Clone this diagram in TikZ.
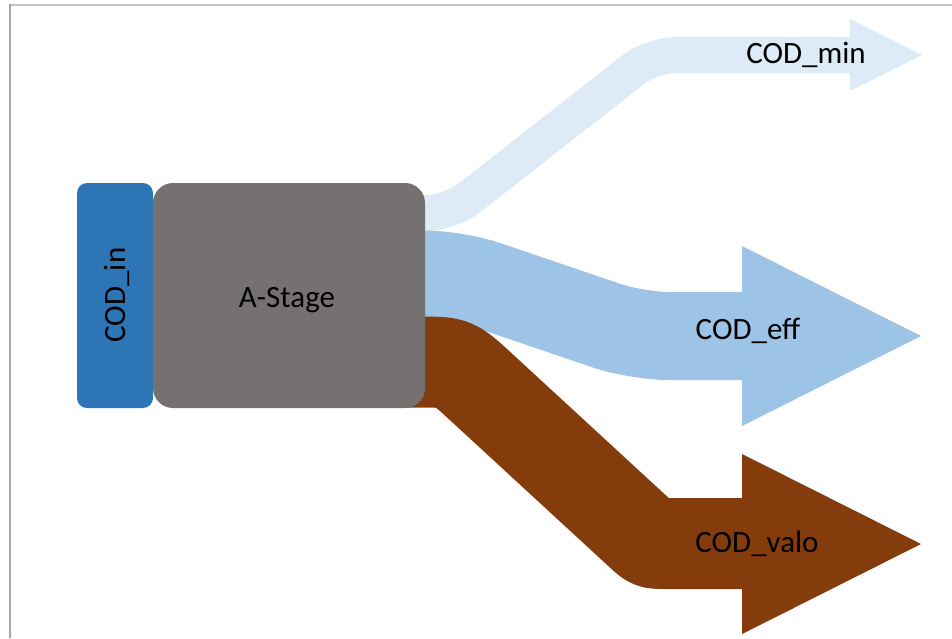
\documentclass[tikz,border=0pt]{standalone}
\usepackage{fontspec}
\setmainfont{Carlito}
\usetikzlibrary{calc}
\definecolor{cin}{HTML}{2E75B6}
\definecolor{cstage}{HTML}{767171}
\definecolor{cmin}{HTML}{DEEBF7}
\definecolor{ceff}{HTML}{9DC3E6}
\definecolor{cvalo}{HTML}{843C0C}
\definecolor{frametop}{HTML}{C4C4C4}
\definecolor{frameleft}{HTML}{A6A6A6}
\begin{document}
\begin{tikzpicture}[x=1pt,y=-1pt,
  lbl/.style={inner sep=0pt, font=\fontsize{31}{37}\selectfont, text=black},
  band/.style={line cap=butt, line join=round},
  box/.style={inner sep=0pt, draw=none}]
\useasboundingbox (0,0) rectangle (952,638);
% frame
\draw[frametop, line width=2pt] (9,5) -- (952,5);
\draw[frameleft, line width=2pt] (10,4) -- (10,638);
% coordinates
\coordinate (minS) at (400,213);
\coordinate (minC1) at (450,213);
\coordinate (minC2) at (652,55);
\coordinate (minB) at (851,55);
\coordinate (effS) at (400,274.5);
\coordinate (effC1) at (456,274.5);
\coordinate (effC2) at (637,336);
\coordinate (effB) at (743,336);
\coordinate (valS) at (400,362);
\coordinate (valC1) at (454,362);
\coordinate (valC2) at (651,543.5);
\coordinate (valB) at (743,543.5);
% bands
\draw[band, cmin, line width=36pt, rounded corners=24pt] (minS) -- (minC1) -- (minC2) -- (minB);
\draw[band, ceff, line width=88pt, rounded corners=32pt] (effS) -- (effC1) -- (effC2) -- (effB);
\draw[band, cvalo, line width=91pt]
  (valS) -- ($(valC1)+(-36,0)$) .. controls (valC1) .. ($(valC1)!36pt!(valC2)$)
  -- ($(valC2)!15pt!(valC1)$) .. controls (valC2) .. ($(valC2)+(15,0)$) -- (valB);
% arrow heads
\coordinate (minT) at (922,55);
\coordinate (effT) at (921,336);
\coordinate (valT) at (921,544);
\fill[cmin] (850,19) -- (minT) -- (850,91) -- cycle;
\fill[ceff] (742,246) -- (effT) -- (742,426) -- cycle;
\fill[cvalo] (742,454) -- (valT) -- (742,634) -- cycle;
% boxes
\node[box, fill=cin, rounded corners=10pt, minimum width=76pt, minimum height=225pt] (codin) at (115,295.5) {};
\node[box, fill=cstage, rounded corners=20pt, minimum width=272pt, minimum height=225pt] (stage) at (289,295.5) {};
% labels
\node[lbl, rotate=90, anchor=base] (tin) at (125,295) {COD\_in};
\node[lbl, anchor=base] (tstage) at (287,307) {A-Stage};
\node[lbl, anchor=base] (tmin) at (806,63) {COD\_min};
\node[lbl, anchor=base] (teff) at (748,339) {COD\_eff};
\node[lbl, anchor=base] (tvalo) at (757,552) {COD\_valo};
\end{tikzpicture}
\end{document}
